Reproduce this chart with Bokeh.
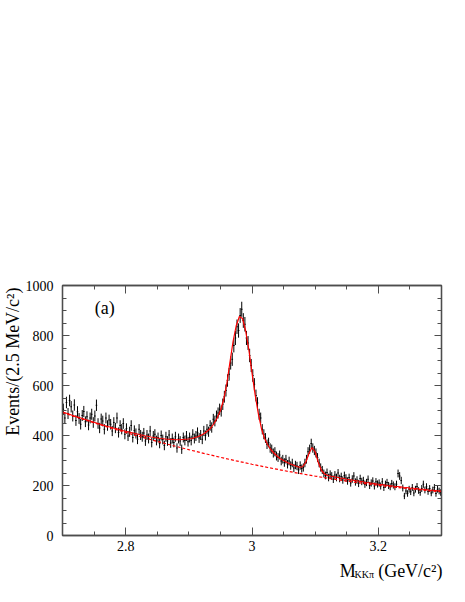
import numpy as np
from bokeh.plotting import figure
from bokeh.models import LinearAxis, FixedTicker, Range1d, Label, ColumnDataSource, Title
from bokeh.embed import file_html
from bokeh.resources import INLINE

# ---------------- data ----------------
bin_lo = 2.700
bin_width = 0.0025
# events per 2.5 MeV bin, 2.700 .. 3.300 GeV (240 bins)
counts = [
    505, 470, 532, 488, 540, 515, 478, 522, 460, 495,
    468, 445, 480, 496, 455, 475, 442, 470, 485, 452,
    478, 521, 448, 430, 466, 458, 425, 470, 440, 462,
    445, 418, 452, 430, 470, 412, 440, 425, 448, 405,
    428, 398, 415, 440, 392, 420, 408, 385, 425, 402,
    395, 410, 378, 402, 388, 418, 372, 398, 405, 380,
    392, 368, 400, 384, 360, 395, 378, 402, 370, 388,
    372, 395, 350, 388, 378, 345, 392, 380, 398, 375,
    392, 380, 405, 388, 398, 412, 390, 402, 385, 418,
    400, 425, 415, 440, 432, 465, 458, 478, 490, 505,
    498, 525, 555, 580, 620, 645, 690, 705, 760, 790,
    835, 820, 880, 905, 860, 845, 790, 770, 720, 680,
    640, 605, 560, 530, 485, 470, 425, 405, 390, 365,
    372, 350, 345, 330, 335, 318, 312, 322, 298, 305,
    292, 305, 285, 298, 280, 290, 270, 282, 278, 262,
    280, 268, 272, 290, 305, 335, 345, 368, 350, 340,
    330, 312, 290, 272, 262, 248, 240, 252, 232, 245,
    238, 225, 242, 232, 250, 228, 236, 222, 240, 230,
    218, 232, 210, 226, 238, 214, 222, 208, 228, 216,
    220, 205, 212, 225, 200, 210, 218, 198, 215, 206,
    210, 198, 215, 192, 205, 212, 200, 195, 208, 202,
    195, 205, 248, 238, 220, 190, 158, 178, 168, 185,
    175, 192, 170, 185, 196, 180, 172, 188, 205, 182,
    195, 176, 188, 170, 182, 192, 168, 185, 178, 172,
]

# total fit curve, sampled every 5 MeV from 2.700 to 3.300
fit_step = 0.005
fit_total = [
    494, 490, 486, 481, 477, 473, 469, 465, 461, 457,
    453, 449, 445, 441, 437, 434, 430, 428, 424, 420,
    417, 414, 411, 408, 405, 402, 399, 397, 394, 392,
    390, 388, 387, 385, 385, 384, 383, 383, 384, 385,
    386, 388, 392, 396, 402, 409, 419, 431, 448, 471,
    500, 542, 605, 692, 776, 839, 876, 868, 818, 743,
    650, 562, 487, 427, 388, 362, 343, 329, 317, 307,
    300, 293, 287, 282, 277, 273, 275, 292, 327, 352,
    335, 292, 260, 246, 240, 237, 235, 233, 230, 228,
    225, 223, 221, 219, 217, 215, 212, 211, 209, 207,
    205, 204, 202, 200, 199, 197, 196, 195, 193, 192,
    190, 189, 188, 186, 185, 184, 182, 181, 180, 179,
    178,
]

# background component, sampled every 25 MeV
bkg_step = 0.025
fit_bkg = [
    492.0, 471.0, 450.8, 431.1, 412.2, 393.9, 376.3, 359.5, 343.3, 327.7,
    312.8, 298.6, 285.0, 272.1, 259.9, 248.4, 237.5, 227.4, 217.8, 209.0,
    200.9, 193.5, 186.6, 180.5, 175.0,
]

x_major = [2.8, 3.0, 3.2]
x_labels = {2.8: "2.8", 3.0: "3", 3.2: "3.2"}
y_major = [0, 200, 400, 600, 800, 1000]

# ---------------- derived ----------------
n = np.array(counts, dtype=float)
centers = bin_lo + bin_width * (np.arange(len(counts)) + 0.5)
err = np.sqrt(n)
src = ColumnDataSource(dict(
    x=centers, y=n, lo=n - err, hi=n + err,
    x0=centers - bin_width / 2, x1=centers + bin_width / 2,
))
fx = bin_lo + fit_step * np.arange(len(fit_total))
bx = bin_lo + bkg_step * np.arange(len(fit_bkg))

SERIF = "Liberation Serif"
AXC = "#4d4d4d"

BL, BR, BT, BB = 62, 10, 285, 58
FW, FH = 379, 250

p = figure(
    output_backend="svg", toolbar_location=None,
    frame_width=FW, frame_height=FH,
    min_border_left=BL, min_border_right=BR, min_border_top=BT, min_border_bottom=BB,
    x_range=Range1d(2.7, 3.3), y_range=Range1d(0, 1000),
    x_axis_type=None, y_axis_type=None,
)
p.grid.visible = False
p.outline_line_color = AXC
p.outline_line_width = 1.3
p.background_fill_color = "white"
p.border_fill_color = "white"

x_minor = [round(2.70 + 0.05 * k, 2) for k in range(13)]
y_minor = [50 * k for k in range(21)]


def style_axis(ax, labels):
    ax.axis_line_color = AXC
    ax.axis_line_width = 1.3
    ax.major_tick_line_color = AXC
    ax.minor_tick_line_color = AXC
    ax.major_tick_out = 0
    ax.minor_tick_out = 0
    ax.major_label_text_font = SERIF
    ax.major_label_text_font_size = "14px"
    ax.major_label_text_color = "black"
    if not labels:
        ax.major_label_text_font_size = "0px"
        ax.major_label_text_alpha = 0


xb = LinearAxis(ticker=FixedTicker(ticks=x_major, minor_ticks=x_minor))
style_axis(xb, True)
xb.major_tick_in = 8
xb.minor_tick_in = 4
xb.major_label_standoff = 5
xb.major_label_overrides = x_labels
p.add_layout(xb, "below")

xt = LinearAxis(ticker=FixedTicker(ticks=x_major, minor_ticks=x_minor))
style_axis(xt, False)
xt.major_tick_in = 8
xt.minor_tick_in = 4
p.add_layout(xt, "above")

yl = LinearAxis(ticker=FixedTicker(ticks=y_major, minor_ticks=y_minor))
style_axis(yl, True)
yl.major_tick_in = 7
yl.minor_tick_in = 4
yl.major_label_standoff = 9
p.add_layout(yl, "left")

yr = LinearAxis(ticker=FixedTicker(ticks=y_major, minor_ticks=y_minor))
style_axis(yr, False)
yr.major_tick_in = 7
yr.minor_tick_in = 4
p.add_layout(yr, "right")

# data with error bars
p.segment(x0="x", y0="lo", x1="x", y1="hi", source=src, line_color="black", line_width=1)
p.segment(x0="x0", y0="y", x1="x1", y1="y", source=src, line_color="black", line_width=1)

# fit curves
p.line(bx, fit_bkg, line_color="red", line_width=1.2, line_dash="3 2")
p.line(fx, fit_total, line_color="red", line_width=1.2)

# texts
p.add_layout(Label(x=2.751, y=912, text="(a)", text_font=SERIF, text_font_size="18px",
                   text_baseline="alphabetic", text_color="black"))

ytitle = Title(text="Events/(2.5 MeV/c²)", align="right", text_font=SERIF,
               text_font_size="18px", text_font_style="normal", text_color="black",
               standoff=0, offset=2)
p.add_layout(ytitle, "left")

# x-axis title: labels placed in bottom side panels (panels stack, so offset in y)
NB = "\u00a0"
p.add_layout(Label(x=380, y=3, x_units="screen", y_units="screen",
                   text="M" + NB * 5 + "(GeV/c²)",
                   text_font=SERIF, text_font_size="18px",
                   text_align="right", text_baseline="alphabetic", text_color="black"), "below")
p.add_layout(Label(x=292, y=10, x_units="screen", y_units="screen", text="KKπ",
                   text_font=SERIF, text_font_size="10px",
                   text_align="left", text_baseline="alphabetic", text_color="black"), "below")

open("out.html", "w").write(file_html(p, INLINE))
